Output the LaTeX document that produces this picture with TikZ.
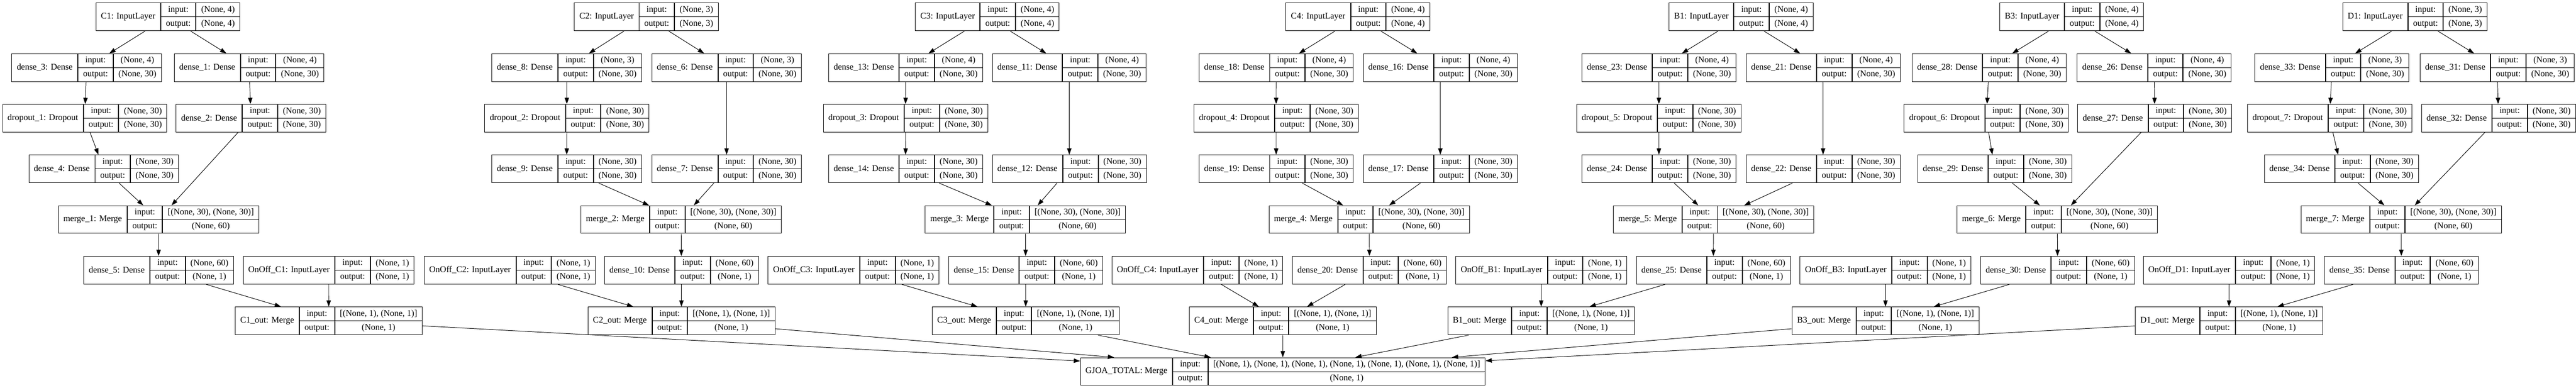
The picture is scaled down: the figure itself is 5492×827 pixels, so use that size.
\documentclass[tikz,border=0pt]{standalone}
\usepackage{fontspec}
\setmainfont{Liberation Serif}
\usetikzlibrary{arrows.meta,fit}

\begin{document}
\begin{tikzpicture}[x=0.75pt,y=-0.75pt,
  cell/.style={draw,line width=0.8pt,inner xsep=8pt,inner ysep=0pt,minimum height=44.25pt,
    anchor=north west,font=\fontsize{14}{22.125}\selectfont,align=center},
  link/.style={line width=0.8pt,-{Triangle[length=10pt,width=7pt]}}]
% one record: name, left x, row, label, input shape, output shape
\newcommand{\layer}[6]{%
  \node[cell] (#1-l) at ({#2},{6+108*#3}) {#4};
  \node[cell] (#1-i) at (#1-l.north east) {input:\\output:};
  \node[cell] (#1-v) at (#1-i.north east) {#5\\#6};
  \draw[line width=0.8pt] (#1-i.west) -- (#1-v.east);
  \node[fit=(#1-l)(#1-v),inner sep=0pt] (#1) {};
}
\useasboundingbox (0,0) rectangle (5492,827);

% C1
\layer{c1-in}{204}{0}{C1: InputLayer}{(None, 4)}{(None, 4)}
\layer{c1-da}{24.5}{1}{dense\_3: Dense}{(None, 4)}{(None, 30)}
\layer{c1-db}{371}{1}{dense\_1: Dense}{(None, 4)}{(None, 30)}
\layer{c1-drop}{5}{2}{dropout\_1: Dropout}{(None, 30)}{(None, 30)}
\layer{c1-dd}{375}{2}{dense\_2: Dense}{(None, 30)}{(None, 30)}
\layer{c1-dc}{61}{3}{dense\_4: Dense}{(None, 30)}{(None, 30)}
\layer{c1-merge}{124}{4}{merge\_1: Merge}{[(None, 30), (None, 30)]}{(None, 60)}
\layer{c1-de}{178}{5}{dense\_5: Dense}{(None, 60)}{(None, 1)}
\layer{c1-onoff}{518}{5}{OnOff\_C1: InputLayer}{(None, 1)}{(None, 1)}
\layer{c1-out}{501}{6}{C1\_out: Merge}{[(None, 1), (None, 1)]}{(None, 1)}

% C2
\layer{c2-in}{1224}{0}{C2: InputLayer}{(None, 3)}{(None, 3)}
\layer{c2-da}{1048}{1}{dense\_8: Dense}{(None, 3)}{(None, 30)}
\layer{c2-db}{1389}{1}{dense\_6: Dense}{(None, 3)}{(None, 30)}
\layer{c2-drop}{1033}{2}{dropout\_2: Dropout}{(None, 30)}{(None, 30)}
\layer{c2-dc}{1048}{3}{dense\_9: Dense}{(None, 30)}{(None, 30)}
\layer{c2-dd}{1389}{3}{dense\_7: Dense}{(None, 30)}{(None, 30)}
\layer{c2-merge}{1238}{4}{merge\_2: Merge}{[(None, 30), (None, 30)]}{(None, 60)}
\layer{c2-de}{1288}{5}{dense\_10: Dense}{(None, 60)}{(None, 1)}
\layer{c2-onoff}{904}{5}{OnOff\_C2: InputLayer}{(None, 1)}{(None, 1)}
\layer{c2-out}{1253}{6}{C2\_out: Merge}{[(None, 1), (None, 1)]}{(None, 1)}

% C3
\layer{c3-in}{1951}{0}{C3: InputLayer}{(None, 4)}{(None, 4)}
\layer{c3-da}{1766}{1}{dense\_13: Dense}{(None, 4)}{(None, 30)}
\layer{c3-db}{2115}{1}{dense\_11: Dense}{(None, 4)}{(None, 30)}
\layer{c3-drop}{1755}{2}{dropout\_3: Dropout}{(None, 30)}{(None, 30)}
\layer{c3-dc}{1766}{3}{dense\_14: Dense}{(None, 30)}{(None, 30)}
\layer{c3-dd}{2115}{3}{dense\_12: Dense}{(None, 30)}{(None, 30)}
\layer{c3-merge}{1972}{4}{merge\_3: Merge}{[(None, 30), (None, 30)]}{(None, 60)}
\layer{c3-de}{2022}{5}{dense\_15: Dense}{(None, 60)}{(None, 1)}
\layer{c3-onoff}{1637}{5}{OnOff\_C3: InputLayer}{(None, 1)}{(None, 1)}
\layer{c3-out}{1987}{6}{C3\_out: Merge}{[(None, 1), (None, 1)]}{(None, 1)}

% C4
\layer{c4-in}{2741}{0}{C4: InputLayer}{(None, 4)}{(None, 4)}
\layer{c4-da}{2556}{1}{dense\_18: Dense}{(None, 4)}{(None, 30)}
\layer{c4-db}{2906}{1}{dense\_16: Dense}{(None, 4)}{(None, 30)}
\layer{c4-drop}{2545}{2}{dropout\_4: Dropout}{(None, 30)}{(None, 30)}
\layer{c4-dc}{2556}{3}{dense\_19: Dense}{(None, 30)}{(None, 30)}
\layer{c4-dd}{2906}{3}{dense\_17: Dense}{(None, 30)}{(None, 30)}
\layer{c4-merge}{2705}{4}{merge\_4: Merge}{[(None, 30), (None, 30)]}{(None, 60)}
\layer{c4-de}{2755}{5}{dense\_20: Dense}{(None, 60)}{(None, 1)}
\layer{c4-onoff}{2370}{5}{OnOff\_C4: InputLayer}{(None, 1)}{(None, 1)}
\layer{c4-out}{2535}{6}{C4\_out: Merge}{[(None, 1), (None, 1)]}{(None, 1)}

% B1
\layer{b1-in}{3558}{0}{B1: InputLayer}{(None, 4)}{(None, 4)}
\layer{b1-da}{3372}{1}{dense\_23: Dense}{(None, 4)}{(None, 30)}
\layer{b1-db}{3722}{1}{dense\_21: Dense}{(None, 4)}{(None, 30)}
\layer{b1-drop}{3361}{2}{dropout\_5: Dropout}{(None, 30)}{(None, 30)}
\layer{b1-dc}{3372}{3}{dense\_24: Dense}{(None, 30)}{(None, 30)}
\layer{b1-dd}{3722}{3}{dense\_22: Dense}{(None, 30)}{(None, 30)}
\layer{b1-merge}{3439}{4}{merge\_5: Merge}{[(None, 30), (None, 30)]}{(None, 60)}
\layer{b1-de}{3488}{5}{dense\_25: Dense}{(None, 60)}{(None, 1)}
\layer{b1-onoff}{3103}{5}{OnOff\_B1: InputLayer}{(None, 1)}{(None, 1)}
\layer{b1-out}{3086}{6}{B1\_out: Merge}{[(None, 1), (None, 1)]}{(None, 1)}

% B3
\layer{b3-in}{4263}{0}{B3: InputLayer}{(None, 4)}{(None, 4)}
\layer{b3-da}{4076}{1}{dense\_28: Dense}{(None, 4)}{(None, 30)}
\layer{b3-db}{4428}{1}{dense\_26: Dense}{(None, 4)}{(None, 30)}
\layer{b3-drop}{4059}{2}{dropout\_6: Dropout}{(None, 30)}{(None, 30)}
\layer{b3-dd}{4429}{2}{dense\_27: Dense}{(None, 30)}{(None, 30)}
\layer{b3-dc}{4088}{3}{dense\_29: Dense}{(None, 30)}{(None, 30)}
\layer{b3-merge}{4172}{4}{merge\_6: Merge}{[(None, 30), (None, 30)]}{(None, 60)}
\layer{b3-de}{4222}{5}{dense\_30: Dense}{(None, 60)}{(None, 1)}
\layer{b3-onoff}{3837}{5}{OnOff\_B3: InputLayer}{(None, 1)}{(None, 1)}
\layer{b3-out}{3820}{6}{B3\_out: Merge}{[(None, 1), (None, 1)]}{(None, 1)}

% D1
\layer{d1-in}{4994}{0}{D1: InputLayer}{(None, 3)}{(None, 3)}
\layer{d1-da}{4807}{1}{dense\_33: Dense}{(None, 3)}{(None, 30)}
\layer{d1-db}{5159}{1}{dense\_31: Dense}{(None, 3)}{(None, 30)}
\layer{d1-drop}{4791}{2}{dropout\_7: Dropout}{(None, 30)}{(None, 30)}
\layer{d1-dd}{5162}{2}{dense\_32: Dense}{(None, 30)}{(None, 30)}
\layer{d1-dc}{4827}{3}{dense\_34: Dense}{(None, 30)}{(None, 30)}
\layer{d1-merge}{4905}{4}{merge\_7: Merge}{[(None, 30), (None, 30)]}{(None, 60)}
\layer{d1-de}{4955}{5}{dense\_35: Dense}{(None, 60)}{(None, 1)}
\layer{d1-onoff}{4569}{5}{OnOff\_D1: InputLayer}{(None, 1)}{(None, 1)}
\layer{d1-out}{4552}{6}{D1\_out: Merge}{[(None, 1), (None, 1)]}{(None, 1)}

% total
\layer{gjoa}{2303}{7}{GJOA\_TOTAL: Merge}{[(None, 1), (None, 1), (None, 1), (None, 1), (None, 1), (None, 1), (None, 1)]}{(None, 1)}

\foreach \b in {c1,c2,c3,c4,b1,b3,d1} {
  \draw[link] (\b-in) -- (\b-da);
  \draw[link] (\b-in) -- (\b-db);
  \draw[link] (\b-da) -- (\b-drop);
  \draw[link] (\b-drop) -- (\b-dc);
  \draw[link] (\b-db) -- (\b-dd);
  \draw[link] (\b-dc) -- (\b-merge);
  \draw[link] (\b-dd) -- (\b-merge);
  \draw[link] (\b-merge) -- (\b-de);
  \draw[link] (\b-de) -- (\b-out);
  \draw[link] (\b-onoff) -- (\b-out);
  \draw[link] (\b-out) -- (gjoa);
}
\end{tikzpicture}
\end{document}
